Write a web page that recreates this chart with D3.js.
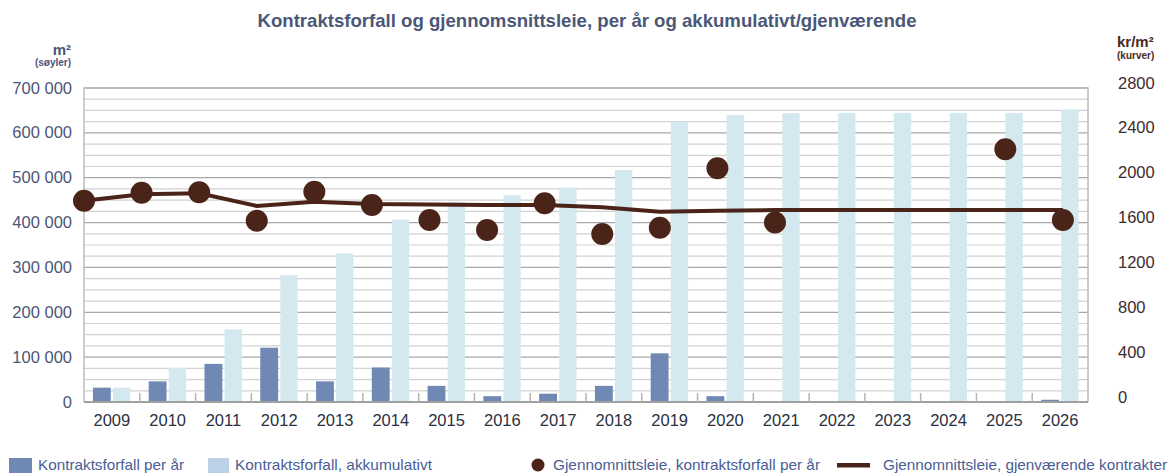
<!DOCTYPE html>
<html>
<head>
<meta charset="utf-8">
<script src="https://cdn.jsdelivr.net/npm/d3@7/dist/d3.min.js"></script>
<style>
  html, body { margin: 0; padding: 0; background: #fff; }
  svg { display: block; }
</style>
</head>
<body>
<svg id="chart" width="1169" height="476"></svg>
<script>
// ---- Data ----
const years = ["2009","2010","2011","2012","2013","2014","2015","2016","2017","2018","2019","2020","2021","2022","2023","2024","2025","2026"];
const perYear = [32000, 46000, 85000, 121000, 46000, 77000, 36000, 13000, 18500, 36000, 108500, 13000, 0, 0, 0, 0, 0, 5000];
const cumulative = [32000, 76000, 162000, 283000, 331000, 407000, 445000, 461000, 478000, 517000, 625000, 640000, 644000, 644500, 644500, 644500, 644500, 652000];
const rentExpiring = [1795, 1866, 1870, 1617, 1875, 1757, 1623, 1534, 1772, 1498, 1554, 2084, 1600, null, null, null, 2253, 1623];
const rentRemaining = [1795, 1852, 1861, 1748, 1786, 1766, 1762, 1757, 1757, 1736, 1697, 1706, 1712, 1712, 1712, 1712, 1712, 1712];
const leftTicks = [0, 100000, 200000, 300000, 400000, 500000, 600000, 700000];
const rightTicks = [0, 400, 800, 1200, 1600, 2000, 2400, 2800];
const legendLabels = ["Kontraktsforfall per år", "Kontraktsforfall, akkumulativt", "Gjennomnittsleie, kontraktsforfall per år", "Gjennomnittsleie, gjenværende kontrakter"];
const titleText = "Kontraktsforfall og gjennomsnittsleie, per år og akkumulativt/gjenværende";

// ---- Layout ----
const svg = d3.select("#chart");
const L = 84, R = 1088, T = 88, B = 402;
const font = "'Liberation Sans', Arial, sans-serif";
const narrow = "'Liberation Sans Narrow', 'Liberation Sans', Arial, sans-serif";
const colDark = "#7089b4", colLight = "#d4e9ef", colLightLegend = "#bcd0e6", colLine = "#4a2419";

const x = d3.scaleBand().domain(years).range([L, R]).padding(0);
const xp = d3.scalePoint().domain(years).range([L, L + (R - L) * 0.975]);
const yL = d3.scaleLinear().domain([0, 700000]).range([B, T]);
const yR = d3.scaleLinear().domain([0, 2800]).range([B, T]);
const bw = x.bandwidth();

// Title
svg.append("text").attr("x", 587).attr("y", 27).attr("text-anchor", "middle")
  .attr("font-family", narrow).attr("font-weight", "bold").attr("font-size", 19)
  .attr("fill", "#4b5777").attr("textLength", 659).attr("lengthAdjust", "spacingAndGlyphs")
  .text(titleText);

// Grid lines
const minor = d3.range(0, 700001, 25000).filter(v => v % 100000 !== 0);
svg.append("g").selectAll("line").data(minor).join("line")
  .attr("x1", L).attr("x2", R).attr("y1", d => yL(d)).attr("y2", d => yL(d))
  .attr("stroke", "#d2d2d2").attr("stroke-width", 1.2);
svg.append("g").selectAll("line").data(leftTicks.filter(v => v > 0)).join("line")
  .attr("x1", L).attr("x2", R).attr("y1", d => yL(d)).attr("y2", d => yL(d))
  .attr("stroke", "#a8a8a8").attr("stroke-width", 1.3);

// Frame
svg.append("path").attr("d", `M${L},${B}V${T}H${R}V${B}`).attr("fill", "none")
  .attr("stroke", "#bdbdbd").attr("stroke-width", 1.5);

// Bars
svg.append("g").selectAll("rect").data(years).join("rect")
  .attr("x", d => x(d) + bw * 0.5 - bw * 0.34).attr("width", bw * 0.32)
  .attr("y", (d, i) => yL(perYear[i])).attr("height", (d, i) => B - yL(perYear[i]))
  .attr("fill", colDark);
svg.append("g").selectAll("rect").data(years).join("rect")
  .attr("x", d => x(d) + bw * 0.5 + bw * 0.02).attr("width", bw * 0.31)
  .attr("y", (d, i) => yL(cumulative[i])).attr("height", (d, i) => B - yL(cumulative[i]))
  .attr("fill", colLight);

// Bottom axis line and ticks
svg.append("line").attr("x1", L).attr("x2", R).attr("y1", B).attr("y2", B)
  .attr("stroke", "#a0a0a0").attr("stroke-width", 2);
svg.append("g").selectAll("line").data(years.slice(1)).join("line")
  .attr("x1", d => x(d)).attr("x2", d => x(d)).attr("y1", B).attr("y2", B - 9)
  .attr("stroke", "#b5b5b5").attr("stroke-width", 1.5);

// X labels
svg.append("g").selectAll("text").data(years).join("text")
  .attr("x", d => x(d) + bw / 2).attr("y", 426).attr("text-anchor", "middle")
  .attr("font-family", font).attr("font-size", 16.5).attr("fill", "#2c3142")
  .text(d => d);

// Left axis labels
const fmt = v => v === 0 ? "0" : d3.format(",")(v).replace(/,/g, " ");
svg.append("g").selectAll("text").data(leftTicks).join("text")
  .attr("x", 72).attr("y", d => yL(d) + 5.5).attr("text-anchor", "end")
  .attr("font-family", font).attr("font-size", 16.5).attr("fill", "#4b5678")
  .text(fmt);
svg.append("text").attr("x", 71).attr("y", 55).attr("text-anchor", "end")
  .attr("font-family", font).attr("font-weight", "bold").attr("font-size", 15).attr("fill", "#4b5678")
  .text("m²");
svg.append("text").attr("x", 71).attr("y", 66).attr("text-anchor", "end")
  .attr("font-family", narrow).attr("font-weight", "bold").attr("font-size", 10).attr("fill", "#4b5678")
  .text("(søyler)");

// Right axis labels
svg.append("g").selectAll("text").data(rightTicks).join("text")
  .attr("x", 1118).attr("y", d => yR(d) + 0.5).attr("text-anchor", "start")
  .attr("font-family", font).attr("font-size", 16.5).attr("fill", "#3d2c2c")
  .text(d => d);
svg.append("text").attr("x", 1117).attr("y", 47).attr("text-anchor", "start")
  .attr("font-family", font).attr("font-weight", "bold").attr("font-size", 15).attr("fill", "#4a2a22")
  .text("kr/m²");
svg.append("text").attr("x", 1117).attr("y", 59).attr("text-anchor", "start")
  .attr("font-family", narrow).attr("font-weight", "bold").attr("font-size", 10).attr("fill", "#4a2a22")
  .text("(kurver)");

// Line: remaining contracts
const line = d3.line().x((d, i) => xp(years[i])).y(d => yR(d));
svg.append("path").datum(rentRemaining).attr("d", line).attr("fill", "none")
  .attr("stroke", colLine).attr("stroke-width", 4).attr("stroke-linejoin", "round");

// Points: expiring contracts
svg.append("g").selectAll("circle").data(years.map((y, i) => [y, rentExpiring[i]]).filter(d => d[1] != null))
  .join("circle").attr("cx", d => xp(d[0])).attr("cy", d => yR(d[1])).attr("r", 11)
  .attr("fill", colLine);

// Legend
const lg = svg.append("g").attr("font-family", narrow).attr("font-size", 15).attr("fill", "#4a5d96");
lg.append("rect").attr("x", 9).attr("y", 458).attr("width", 23).attr("height", 15).attr("fill", colDark);
lg.append("text").attr("x", 38).attr("y", 470).attr("textLength", 146).attr("lengthAdjust", "spacingAndGlyphs").text(legendLabels[0]);
lg.append("rect").attr("x", 208).attr("y", 458).attr("width", 21).attr("height", 15).attr("fill", colLightLegend);
lg.append("text").attr("x", 235).attr("y", 470).attr("textLength", 197).attr("lengthAdjust", "spacingAndGlyphs").text(legendLabels[1]);
lg.append("circle").attr("cx", 538).attr("cy", 465).attr("r", 6.5).attr("fill", colLine);
lg.append("text").attr("x", 553).attr("y", 470).attr("textLength", 267).attr("lengthAdjust", "spacingAndGlyphs").text(legendLabels[2]);
lg.append("rect").attr("x", 837).attr("y", 463).attr("width", 33).attr("height", 4.5).attr("fill", colLine);
lg.append("text").attr("x", 883).attr("y", 470).attr("textLength", 284).attr("lengthAdjust", "spacingAndGlyphs").text(legendLabels[3]);
</script>
</body>
</html>
